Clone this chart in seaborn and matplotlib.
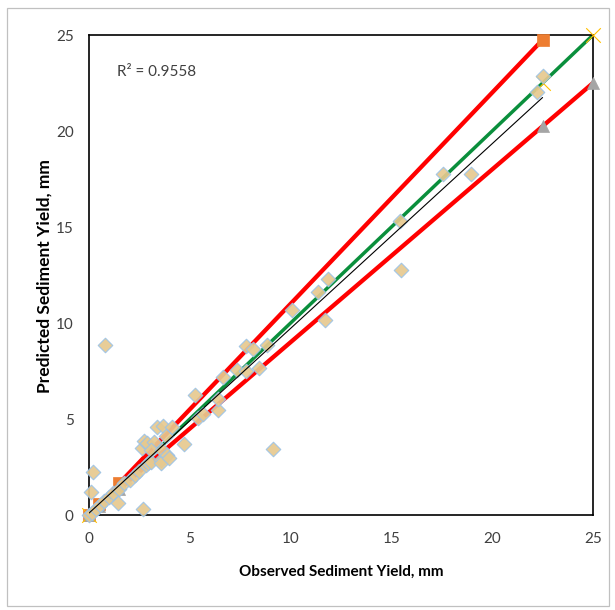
import numpy as np
import pandas as pd
import matplotlib
matplotlib.use("Agg")
import matplotlib.pyplot as plt
import seaborn as sns
from matplotlib.patches import Rectangle

# Observed vs predicted sediment yield (mm)
observed = [0.0, 0.14, 0.33, 0.53, 0.72, 1.01, 1.21, 1.5, 1.76, 2.03, 2.28, 2.48,
            0.1, 0.18, 0.78, 1.46, 2.67,
            2.64, 2.73, 2.89, 2.81, 2.93, 3.06, 3.22, 3.06, 3.36, 3.55, 3.55, 3.64,
            3.65, 3.84, 3.88, 3.97, 4.14, 4.71,
            5.25, 5.39, 5.64, 6.38, 6.42, 6.67, 7.36, 7.79, 7.81, 8.14, 8.43, 8.82,
            9.11, 10.09, 11.36, 11.71, 11.87, 15.42, 15.46, 17.58, 18.97, 22.21, 22.5]
predicted = [0.0, 0.1, 0.3, 0.5, 0.75, 0.95, 1.16, 1.36, 1.66, 1.82, 2.07, 2.3,
             1.22, 2.25, 8.88, 0.61, 0.32,
             3.47, 3.88, 3.73, 2.6, 2.72, 2.78, 3.82, 3.39, 4.58, 2.86, 2.72, 3.39,
             4.66, 4.1, 3.12, 2.95, 4.56, 3.7,
             6.27, 5.07, 5.25, 5.47, 6.02, 7.18, 7.54, 7.48, 8.82, 8.66, 7.64, 8.88,
             3.43, 10.69, 11.6, 10.14, 12.31, 15.29, 12.75, 17.74, 17.78, 22.02, 22.89]

# +10% band
upper_x = [0.0, 0.5, 1.5, 22.5]
upper_y = [0.0, 0.55, 1.65, 24.75]
# -10% band
lower_x = [0.0, 0.5, 1.5, 22.5, 25.0]
lower_y = [0.0, 0.45, 1.35, 20.25, 22.5]
# 1:1 line
equal_x = [0.0, 22.5, 25.0]
equal_y = [0.0, 22.5, 25.0]

# Linear trend line
trend_slope = 0.962
trend_intercept = 0.1
trend_x = [0.0, 22.5]
r_squared = 0.9558

ticks = [0, 5, 10, 15, 20, 25]

sns.set_style("white")
plt.rcParams["font.family"] = ["Lato", "DejaVu Sans"]

fig = plt.figure(figsize=(6.15, 6.10), dpi=100)
fig.patches.append(Rectangle((0.0114, 0.0066), 0.979, 0.980, transform=fig.transFigure,
                             fill=False, edgecolor="#C0C0C0", linewidth=0.9))
ax = fig.add_axes([0.1447, 0.1557, 0.8195, 0.7869])

red = "#FF0000"
green = "#0A8F3C"

sns.lineplot(x=upper_x, y=upper_y, color=red, linewidth=3.1, sort=False, ax=ax, zorder=2)
sns.lineplot(x=lower_x, y=lower_y, color=red, linewidth=3.1, sort=False, ax=ax, zorder=2)
sns.lineplot(x=equal_x, y=equal_y, color=green, linewidth=2.5, sort=False, ax=ax, zorder=2)

sns.scatterplot(x=upper_x, y=upper_y, marker="s", s=80, color="#ED7D31",
                edgecolor="#ED7D31", linewidth=0.5, ax=ax, zorder=3, clip_on=False)
sns.scatterplot(x=lower_x, y=lower_y, marker="^", s=75, color="#A5A5A5",
                edgecolor="#A5A5A5", linewidth=0.5, ax=ax, zorder=3, clip_on=False)
sns.scatterplot(x=equal_x, y=equal_y, marker="x", s=110, color="#FFC000",
                linewidth=0.8, ax=ax, zorder=3, clip_on=False)

df = pd.DataFrame({"Observed": observed, "Predicted": predicted})
sns.scatterplot(data=df, x="Observed", y="Predicted", marker="D", s=55,
                color="#E6C98F", edgecolor="#9DC3E6", linewidth=0.8, alpha=0.92,
                ax=ax, zorder=4, clip_on=False)

trend_y = [trend_intercept + trend_slope * v for v in trend_x]
sns.lineplot(x=trend_x, y=trend_y, color="black", linewidth=0.8, ax=ax, zorder=5)

ax.set_xlim(0, 25)
ax.set_ylim(0, 25)
ax.set_xticks(ticks)
ax.set_yticks(ticks)
ax.set_xticklabels([str(t) for t in ticks])
ax.set_yticklabels([str(t) for t in ticks])
ax.tick_params(axis="both", direction="out", length=4, width=0.8, color="#868686",
               labelsize=11, labelcolor="#404040")
ax.tick_params(axis="x", pad=8)
ax.tick_params(axis="y", pad=7)

for sp in ax.spines.values():
    sp.set_visible(True)
    sp.set_color("black")
    sp.set_linewidth(1.2)

ax.set_xlabel("Observed Sediment Yield, mm", fontsize=11, fontweight="bold",
              color="black", va="center")
ax.xaxis.set_label_coords(0.5, -0.119)
ax.set_ylabel("Predicted Sediment Yield, mm", fontsize=12.5, fontweight="bold",
              color="black", va="center")
ax.yaxis.set_label_coords(-0.089, 0.498)

ax.text(0.0556, 0.922, f"R\u00b2 = {r_squared}", transform=ax.transAxes,
        fontsize=11, color="#404040", va="center", ha="left")

fig.savefig("out.png", dpi=100)
